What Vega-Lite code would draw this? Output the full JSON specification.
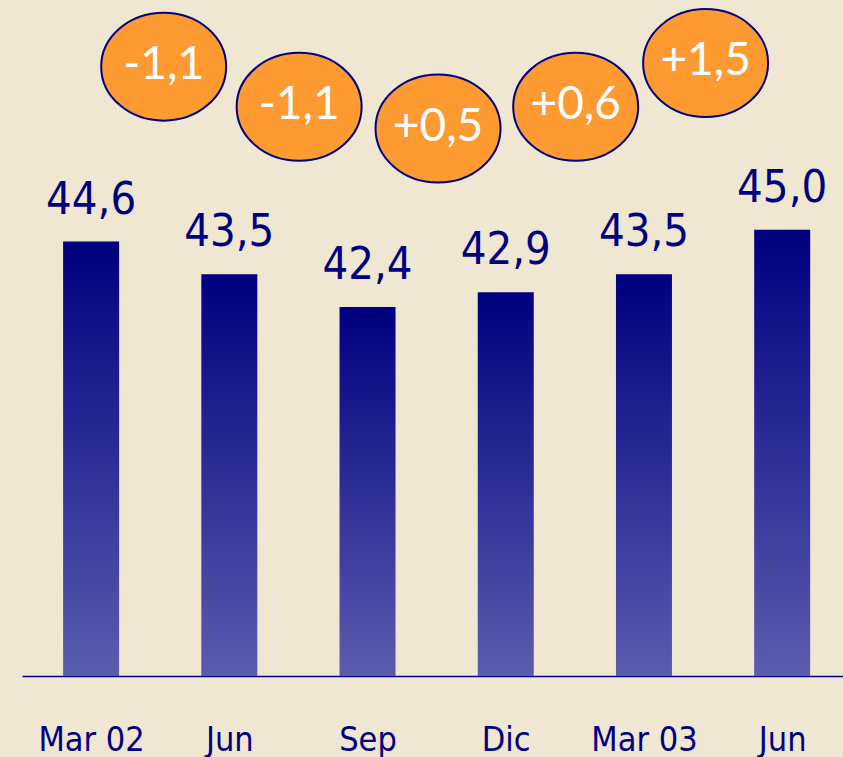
{
  "$schema": "https://vega.github.io/schema/vega-lite/v6.json",
  "width": 821,
  "height": 676,
  "autosize": "none",
  "padding": {"left": 22, "right": 0, "top": 0, "bottom": 81},
  "background": "#efe7d1",
  "config": {"view": {"stroke": null}},
  "datasets": {
    "bars": [
      {"idx": 0, "period": "Mar 02", "value": 44.6, "label": "44,6"},
      {"idx": 1, "period": "Jun", "value": 43.5, "label": "43,5"},
      {"idx": 2, "period": "Sep", "value": 42.4, "label": "42,4"},
      {"idx": 3, "period": "Dic", "value": 42.9, "label": "42,9"},
      {"idx": 4, "period": "Mar 03", "value": 43.5, "label": "43,5"},
      {"idx": 5, "period": "Jun", "value": 45.0, "label": "45,0"}
    ],
    "changes": [
      {"pos": 0.525, "level": 50.48, "change": "-1,1"},
      {"pos": 1.505, "level": 49.13, "change": "-1,1"},
      {"pos": 2.51, "level": 48.4, "change": "+0,5"},
      {"pos": 3.506, "level": 49.13, "change": "+0,6"},
      {"pos": 4.446, "level": 50.6, "change": "+1,5"}
    ]
  },
  "layer": [
    {
      "data": {"name": "bars"},
      "mark": {
        "type": "bar",
        "size": 56,
        "color": {
          "gradient": "linear",
          "x1": 0, "y1": 0, "x2": 0, "y2": 1,
          "stops": [
            {"offset": 0, "color": "#000080"},
            {"offset": 1, "color": "#5c5cae"}
          ]
        }
      },
      "encoding": {
        "x": {
          "field": "idx",
          "type": "quantitative",
          "scale": {"domain": [-0.5, 5.44], "nice": false, "zero": false, "padding": 0},
          "axis": {
            "title": null,
            "values": [0, 1, 2, 3, 4, 5],
            "labelExpr": "['Mar 02','Jun','Sep','Dic','Mar 03','Jun'][datum.value]",
            "grid": false,
            "ticks": false,
            "tickSize": 0,
            "domainColor": "#000080",
            "domainWidth": 1.5,
            "labelFont": "DejaVu Sans Condensed, sans-serif",
            "labelFontSize": 34,
            "labelColor": "#000080",
            "labelPadding": 74,
            "labelBaseline": "alphabetic",
            "labelFlush": false,
            "labelOverlap": false
          }
        },
        "y": {
          "field": "value",
          "type": "quantitative",
          "scale": {"domain": [30, 52.72], "nice": false, "zero": false},
          "axis": null
        },
        "y2": {"datum": 30}
      }
    },
    {
      "data": {"name": "bars"},
      "mark": {
        "type": "text",
        "dy": -28,
        "baseline": "alphabetic",
        "align": "center",
        "font": "DejaVu Sans Condensed, sans-serif",
        "fontSize": 45,
        "color": "#000080"
      },
      "encoding": {
        "x": {"field": "idx", "type": "quantitative"},
        "y": {"field": "value", "type": "quantitative"},
        "text": {"field": "label"}
      }
    },
    {
      "data": {"name": "changes"},
      "mark": {
        "type": "point",
        "shape": "M -1 0 A 1 0.864 0 1 1 1 0 A 1 0.864 0 1 1 -1 0 Z",
        "size": 15625,
        "filled": true,
        "fill": "#fd9a32",
        "stroke": "#000080",
        "strokeWidth": 2,
        "opacity": 1
      },
      "encoding": {
        "x": {"field": "pos", "type": "quantitative"},
        "y": {"field": "level", "type": "quantitative"}
      }
    },
    {
      "data": {"name": "changes"},
      "mark": {
        "type": "text",
        "baseline": "middle",
        "align": "center",
        "font": "Lato",
        "fontSize": 46,
        "color": "#ffffff",
        "dy": -2
      },
      "encoding": {
        "x": {"field": "pos", "type": "quantitative"},
        "y": {"field": "level", "type": "quantitative"},
        "text": {"field": "change"}
      }
    }
  ]
}
